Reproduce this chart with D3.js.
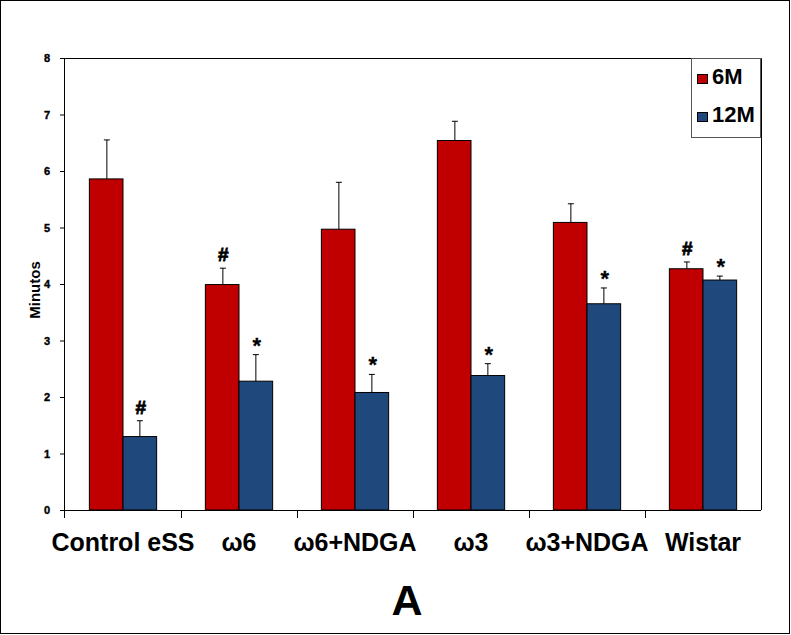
<!DOCTYPE html>
<html>
<head>
<meta charset="utf-8">
<script src="https://cdn.jsdelivr.net/npm/d3@7"></script>
<style>
  body { margin: 0; background: #fff; }
  svg text { font-family: "Liberation Sans", Arial, sans-serif; font-weight: bold; }
</style>
</head>
<body>
<div id="chart"></div>
<script>
// 1: DATA
const groups = ["Control eSS", "ω6", "ω6+NDGA", "ω3", "ω3+NDGA", "Wistar"];
const series = ["6M", "12M"];
const values6M  = [5.86, 3.99, 4.97, 6.54, 5.09, 4.27];
const err6M     = [0.69, 0.29, 0.83, 0.34, 0.33, 0.12];
const values12M = [1.30, 2.28, 2.08, 2.38, 3.65, 4.07];
const err12M    = [0.28, 0.47, 0.32, 0.21, 0.28, 0.07];
const marks6M   = ["", "#", "", "", "", "#"];
const marks12M  = ["#", "*", "*", "*", "*", "*"];
const yTicks = [0, 1, 2, 3, 4, 5, 6, 7, 8];
const colors = { "6M": "#C00000", "12M": "#1F497D" };

// 2: SVG + MARGINS
const W = 791, H = 635;
const margin = { top: 58, right: 30, bottom: 125, left: 65 };
const width = W - margin.left - margin.right,
      height = H - margin.top - margin.bottom;

const svg = d3.select("#chart").append("svg")
    .attr("width", W)
    .attr("height", H);

// outer frame
svg.append("rect")
    .attr("x", 0.5).attr("y", 0.5)
    .attr("width", W - 2).attr("height", H - 2)
    .attr("fill", "none").attr("stroke", "#000");

const g = svg.append("g")
    .attr("transform", `translate(${margin.left},${margin.top})`);

// 3: SCALES
const x0 = d3.scaleBand().domain(groups).range([0, width]).paddingInner(0).paddingOuter(0);
const x1 = d3.scaleBand().domain(series).range([0, x0.bandwidth() * 0.58]);
const pairOffset = (x0.bandwidth() - x0.bandwidth() * 0.58) / 2;
const y = d3.scaleLinear().domain([0, 8]).range([height, 0]);

const data = groups.map((grp, i) => ({
    group: grp,
    bars: [
        { key: "6M", value: values6M[i], err: err6M[i], mark: marks6M[i] },
        { key: "12M", value: values12M[i], err: err12M[i], mark: marks12M[i] }
    ]
}));

// plot frame top + right
g.append("path")
    .attr("d", `M0,0.5H${width}.5V${height}`)
    .attr("fill", "none").attr("stroke", "#000");

// 4: BARS
const grp = g.selectAll(".grp").data(data).enter().append("g")
    .attr("transform", d => `translate(${x0(d.group) + pairOffset},0)`);

grp.selectAll("rect").data(d => d.bars).enter().append("rect")
    .attr("x", d => x1(d.key))
    .attr("y", d => y(d.value))
    .attr("width", x1.bandwidth())
    .attr("height", d => height - y(d.value))
    .attr("fill", d => colors[d.key])
    .attr("stroke", "#000")
    .attr("stroke-width", 1);

// error bars (upper only)
grp.selectAll("path.err").data(d => d.bars).enter().append("path")
    .attr("class", "err")
    .attr("d", d => {
        const cx = Math.round(x1(d.key) + x1.bandwidth() / 2) + 0.5;
        const yt = y(d.value + d.err), yb = y(d.value);
        return `M${cx},${yb}V${yt}M${cx - 3},${yt}H${cx + 3}`;
    })
    .attr("stroke", "#000").attr("fill", "none");

grp.selectAll("text.mark").data(d => d.bars.filter(b => b.mark)).enter().append("text")
    .attr("class", "mark")
    .attr("x", d => x1(d.key) + x1.bandwidth() / 2 + 1)
    .attr("y", d => y(d.value + d.err) - (d.mark === "*" ? 2 : 7))
    .attr("text-anchor", "middle")
    .attr("font-size", d => d.mark === "*" ? "22px" : "19px")
    .attr("stroke", "#000")
    .attr("stroke-width", d => d.mark === "#" ? 0.8 : 0.3)
    .text(d => d.mark);

// 5: AXES
const yAxis = g.append("g")
    .call(d3.axisLeft(y).tickValues(yTicks).tickSize(5).tickPadding(10));
yAxis.select(".domain").attr("d", `M-0.5,${height + 8}V0`);
yAxis.selectAll("text")
    .attr("font-size", "11px")
    .attr("stroke", "#000")
    .attr("stroke-width", 0.4)
    .style("font-weight", "bold")
    .style("font-family", "'Liberation Sans', Arial, sans-serif");

const xAxis = g.append("g")
    .attr("transform", `translate(0,${height})`);
xAxis.append("path")
    .attr("d", `M0,0.5H${width}`)
    .attr("stroke", "#000");
xAxis.selectAll("line").data(groups.slice(1)).enter().append("line")
    .attr("x1", d => Math.round(x0(d)) + 0.5).attr("x2", d => Math.round(x0(d)) + 0.5)
    .attr("y1", 0).attr("y2", 8)
    .attr("stroke", "#000");
xAxis.selectAll("text").data(groups).enter().append("text")
    .attr("x", d => x0(d) + x0.bandwidth() / 2)
    .attr("y", 41)
    .attr("text-anchor", "middle")
    .attr("font-size", "25px")
    .text(d => d);

// 6: LABELS
svg.append("text")
    .attr("transform", `translate(40,${margin.top + height / 2 + 6}) rotate(-90)`)
    .attr("text-anchor", "middle")
    .attr("font-size", "15px")
    .text("Minutos");

svg.append("text")
    .attr("x", 407)
    .attr("y", 615)
    .attr("text-anchor", "middle")
    .attr("font-size", "43px")
    .text("A");

// 7: LEGEND
const legend = g.append("g").attr("transform", `translate(${width - 70},0)`);
legend.append("rect")
    .attr("x", 0.5).attr("y", 0.5)
    .attr("width", 69).attr("height", 79)
    .attr("fill", "#fff").attr("stroke", "#555");
series.forEach((s, i) => {
    legend.append("rect")
        .attr("x", 6.5).attr("y", 16.5 + i * 38)
        .attr("width", 10).attr("height", 9)
        .attr("fill", colors[s]).attr("stroke", "#000");
    legend.append("text")
        .attr("x", 21).attr("y", 26 + i * 38)
        .attr("font-size", "22px")
        .text(s);
});
</script>
</body>
</html>
